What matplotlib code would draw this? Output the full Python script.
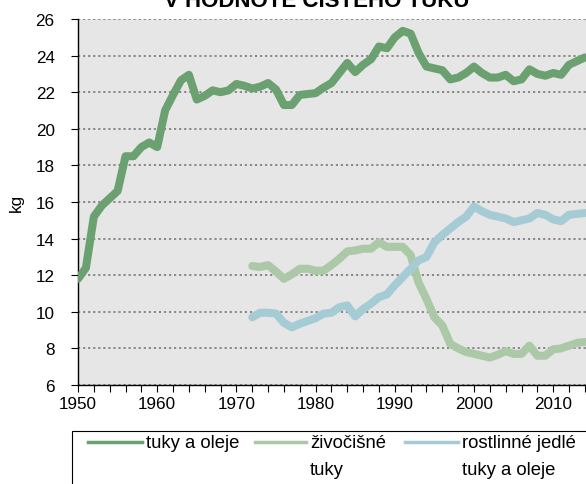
import matplotlib
matplotlib.use("Agg")
from matplotlib import pyplot as plt
from matplotlib.lines import Line2D
from matplotlib.patches import Rectangle
import numpy as np

plt.rcParams['font.family'] = ['Liberation Sans', 'DejaVu Sans']

# Data (kg per person, pure fat)
years_all = np.arange(1950, 2015)
years_split = np.arange(1972, 2015)

tuky_a_oleje = [
    11.8, 12.4, 15.2, 15.8, 16.2, 16.6, 18.5, 18.5, 19.0, 19.25,
    19.0, 21.0, 21.85, 22.65, 22.95, 21.6, 21.8, 22.1, 22.0, 22.1,
    22.45, 22.35, 22.2, 22.3, 22.5, 22.15, 21.3, 21.3, 21.85, 21.9,
    21.95, 22.25, 22.5, 23.05, 23.6, 23.1, 23.5, 23.8, 24.5, 24.4,
    25.0, 25.35, 25.2, 24.15, 23.4, 23.3, 23.2, 22.7, 22.8, 23.05,
    23.4, 23.05, 22.8, 22.8, 22.95, 22.6, 22.7, 23.25, 23.0, 22.9,
    23.05, 22.95, 23.5, 23.7, 23.9,
]

zivocisne = [
    12.5, 12.45, 12.55, 12.2, 11.8, 12.05, 12.35, 12.35, 12.25, 12.25,
    12.55, 12.9, 13.3, 13.35, 13.45, 13.45, 13.8, 13.55, 13.55, 13.55,
    13.1, 11.6, 10.7, 9.7, 9.25, 8.25, 8.0, 7.8, 7.7, 7.6,
    7.5, 7.65, 7.85, 7.7, 7.7, 8.15, 7.6, 7.6, 7.95, 8.0,
    8.15, 8.3, 8.35,
]

rostlinne = [
    9.7, 9.95, 9.95, 9.9, 9.4, 9.15, 9.35, 9.5, 9.65, 9.9,
    9.95, 10.25, 10.35, 9.75, 10.15, 10.45, 10.8, 10.95, 11.45, 11.9,
    12.35, 12.8, 13.0, 13.8, 14.2, 14.55, 14.9, 15.2, 15.75, 15.5,
    15.3, 15.2, 15.1, 14.9, 15.0, 15.1, 15.4, 15.3, 15.05, 14.95,
    15.3, 15.35, 15.4,
]

labels = ['tuky a oleje', 'živočišné\ntuky', 'rostlinné jedlé\ntuky a oleje']
colors = ['#6ba170', '#abc9a7', '#a5cbd4']

W, H = 586, 485
fig = plt.figure(figsize=(W / 100, H / 100), dpi=100)

# axes runs past the right edge of the picture (chart is cropped)
x0, x1 = 1950, 2016
px_per_year = 7.92
ax_w = (x1 - x0) * px_per_year
ax = fig.add_axes([78 / W, (H - 386) / H, ax_w / W, 366 / H])
ax.set_facecolor('#e6e6e6')

series = [(years_all, tuky_a_oleje), (years_split, zivocisne), (years_split, rostlinne)]
for (xs, ys), c in zip(series, colors):
    ax.plot(xs, ys, color=c, linewidth=5.8, solid_capstyle='round',
            solid_joinstyle='round', zorder=3)

ax.set_xlim(x0, x1)
ax.set_ylim(6, 26)
ax.set_yticks(np.arange(6, 27, 2))
xt = np.arange(1950, 2017, 2)
ax.set_xticks(xt)
ax.set_xticklabels([str(y) if y % 10 == 0 else '' for y in xt])
ax.tick_params(axis='both', direction='out', length=4.8, width=0.8, labelsize=12.3,
               colors='black')
ax.tick_params(axis='y', pad=12)
ax.tick_params(axis='x', pad=3)

ax.yaxis.grid(True, linestyle=(0, (1.2, 1.6)), color='#808080', linewidth=1.3)
ax.set_axisbelow(True)
for s in ['top', 'right']:
    ax.spines[s].set_visible(False)
for s in ['left', 'bottom']:
    ax.spines[s].set_linewidth(1.0)

ax.set_ylabel('kg', fontsize=12.3)
ax.yaxis.set_label_coords(-(78 - 24) / ax_w, 0.5)

fig.text(317 / W, 1 - 7 / H, 'V HODNOTĚ ČISTÉHO TUKU', ha='center', va='baseline',
         fontsize=16, fontweight='bold')

# legend box, cut by the picture edges like in the reference
fig.add_artist(Rectangle((72 / W, -0.1), 1.0, (H - 432) / H + 0.1,
                         transform=fig.transFigure, fill=False,
                         edgecolor='black', linewidth=0.8))
leg_handles = [(88, 142), (255, 306), (405, 458)]
for (ha, hb), lab, c in zip(leg_handles, labels, colors):
    fig.add_artist(Line2D([ha / W, hb / W], [1 - 443 / H, 1 - 443 / H],
                          transform=fig.transFigure, color=c, linewidth=2.5))
    for i, line in enumerate(lab.split('\n')):
        fig.text((hb + 4) / W, 1 - (448 + 27 * i) / H, line, ha='left',
                 va='baseline', fontsize=13.3)

fig.savefig('out.png', dpi=100)
